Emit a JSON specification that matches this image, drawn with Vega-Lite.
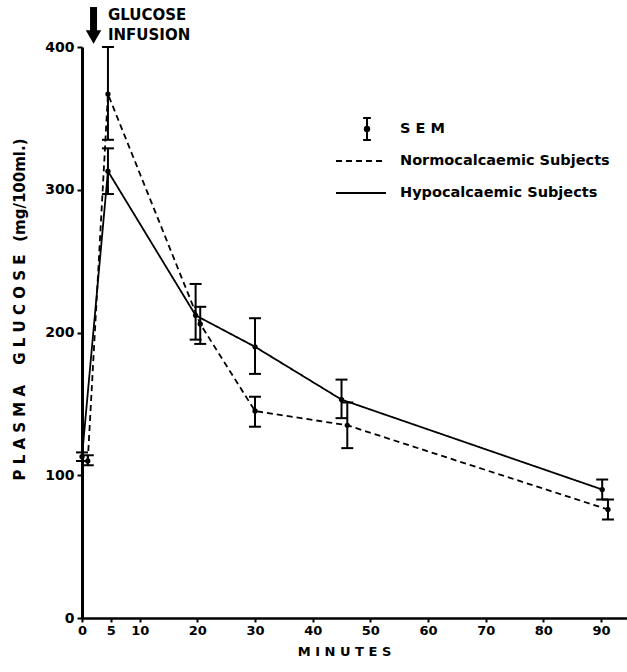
{
  "$schema": "https://vega.github.io/schema/vega-lite/v6.json",
  "width": 545,
  "height": 571,
  "autosize": {"type": "none"},
  "padding": {"left": 82, "top": 47, "right": 0, "bottom": 54},
  "background": "white",
  "config": {
    "view": {"stroke": null},
    "font": "DejaVu Sans",
    "axis": {"grid": false, "domainColor": "black", "tickColor": "black", "labelColor": "black", "titleColor": "black", "labelFont": "DejaVu Sans", "titleFont": "DejaVu Sans", "labelFontWeight": "bold", "titleFontWeight": "bold"},
    "legend": {"labelFont": "DejaVu Sans", "labelFontWeight": "bold", "labelColor": "black", "labelLimit": 400}
  },
  "datasets": {
    "glucose": [
      {"group": "Hypocalcaemic Subjects", "t": 0, "v": 113, "lo": 110, "hi": 116},
      {"group": "Hypocalcaemic Subjects", "t": 4.5, "v": 313, "lo": 297, "hi": 329},
      {"group": "Hypocalcaemic Subjects", "t": 19.7, "v": 212, "lo": 195, "hi": 234},
      {"group": "Hypocalcaemic Subjects", "t": 30, "v": 190, "lo": 171, "hi": 210},
      {"group": "Hypocalcaemic Subjects", "t": 45, "v": 153, "lo": 140, "hi": 167},
      {"group": "Hypocalcaemic Subjects", "t": 90.2, "v": 90, "lo": 83, "hi": 97},
      {"group": "Normocalcaemic Subjects", "t": 1, "v": 110, "lo": 107, "hi": 114},
      {"group": "Normocalcaemic Subjects", "t": 4.5, "v": 367, "lo": 335, "hi": 400},
      {"group": "Normocalcaemic Subjects", "t": 20.5, "v": 206, "lo": 192, "hi": 218},
      {"group": "Normocalcaemic Subjects", "t": 30, "v": 145, "lo": 134, "hi": 155},
      {"group": "Normocalcaemic Subjects", "t": 46, "v": 135, "lo": 119, "hi": 151},
      {"group": "Normocalcaemic Subjects", "t": 91.2, "v": 76, "lo": 69, "hi": 83}
    ],
    "note": [{"label": "GLUCOSE INFUSION"}]
  },
  "layer": [
    {
      "data": {"name": "glucose"},
      "mark": {"type": "line", "color": "black", "strokeWidth": 1.8},
      "encoding": {
        "x": {"field": "t", "type": "quantitative", "scale": {"domain": [0, 94.5], "nice": false, "zero": false},
          "title": "M I N U T E S",
          "axis": {"values": [0, 5, 10, 20, 30, 40, 50, 60, 70, 80, 90], "tickSize": 4, "tickWidth": 2, "domainWidth": 2.5, "labelFontSize": 13, "labelPadding": 2, "labelFlush": false, "labelOverlap": false, "titleFontSize": 13, "titlePadding": 8, "titleX": 262}},
        "y": {"field": "v", "type": "quantitative", "scale": {"domain": [0, 400], "nice": false},
          "title": "P L A S M A \u2003G L U C O S E \u2002(mg/100ml.)",
          "axis": {"values": [0, 100, 200, 300, 400], "tickSize": 5, "tickWidth": 2, "domainWidth": 3, "labelFontSize": 14, "labelPadding": 3, "labelFlush": false, "titleFontSize": 15, "titlePadding": 17, "titleY": 262}},
        "strokeDash": {"field": "group", "type": "nominal",
          "scale": {"domain": ["Normocalcaemic Subjects", "Hypocalcaemic Subjects"], "range": [[6, 4], [1, 0]]},
          "legend": {"title": null, "orient": "none", "legendX": 268, "legendY": 103, "padding": 0, "symbolType": "M-2.5,0H2.5", "symbolSize": 400, "symbolStrokeWidth": 2, "symbolStrokeColor": "black", "labelFontSize": 14.5, "labelOffset": 28, "rowPadding": 14}}
      }
    },
    {
      "data": {"name": "glucose"},
      "mark": {"type": "errorbar", "color": "black", "thickness": 2, "opacity": 1, "ticks": {"size": 12, "thickness": 2, "color": "black", "opacity": 1}},
      "encoding": {
        "x": {"field": "t", "type": "quantitative", "scale": {"domain": [0, 94.5], "nice": false, "zero": false}, "title": "M I N U T E S"},
        "y": {"field": "lo", "type": "quantitative", "scale": {"domain": [0, 400], "nice": false}, "title": "P L A S M A \u2003G L U C O S E \u2002(mg/100ml.)"},
        "y2": {"field": "hi", "title": null}
      }
    },
    {
      "data": {"name": "glucose"},
      "mark": {"type": "point", "filled": true, "size": 28, "opacity": 1},
      "encoding": {
        "x": {"field": "t", "type": "quantitative", "scale": {"domain": [0, 94.5], "nice": false, "zero": false}, "title": "M I N U T E S"},
        "y": {"field": "v", "type": "quantitative", "scale": {"domain": [0, 400], "nice": false}, "title": "P L A S M A \u2003G L U C O S E \u2002(mg/100ml.)"},
        "fill": {"datum": "S E M", "type": "nominal", "scale": {"range": ["black"]},
          "legend": {"title": null, "orient": "none", "legendX": 273, "legendY": 70, "padding": 0, "symbolType": "M0,-1V1M-0.35,-1H0.35M-0.35,1H0.35M0.2,0A0.2,0.2,0,1,1,-0.2,0A0.2,0.2,0,1,1,0.2,0", "symbolSize": 484, "symbolStrokeWidth": 2, "symbolStrokeColor": "black", "symbolFillColor": "black", "labelFontSize": 14.5, "labelOffset": 21}},
        "color": {"value": "black"}
      }
    },
    {
      "data": {"name": "note"},
      "mark": {"type": "text", "text": ["GLUCOSE", "INFUSION"], "align": "left", "baseline": "top", "fontSize": 15, "fontWeight": "bold", "lineHeight": 20, "color": "black"},
      "encoding": {
        "x": {"datum": 4.5, "type": "quantitative", "scale": {"domain": [0, 94.5], "nice": false, "zero": false}},
        "y": {"datum": 427, "type": "quantitative", "scale": {"domain": [0, 400], "nice": false}}
      }
    },
    {
      "data": {"name": "note"},
      "mark": {"type": "rule", "color": "black", "strokeWidth": 7},
      "encoding": {
        "x": {"datum": 2, "type": "quantitative", "scale": {"domain": [0, 94.5], "nice": false, "zero": false}},
        "y": {"datum": 428, "type": "quantitative", "scale": {"domain": [0, 400], "nice": false}},
        "y2": {"datum": 410}
      }
    },
    {
      "data": {"name": "note"},
      "mark": {"type": "point", "shape": "triangle-down", "filled": true, "size": 240, "color": "black", "opacity": 1},
      "encoding": {
        "x": {"datum": 2, "type": "quantitative", "scale": {"domain": [0, 94.5], "nice": false, "zero": false}},
        "y": {"datum": 407, "type": "quantitative", "scale": {"domain": [0, 400], "nice": false}}
      }
    }
  ]
}
